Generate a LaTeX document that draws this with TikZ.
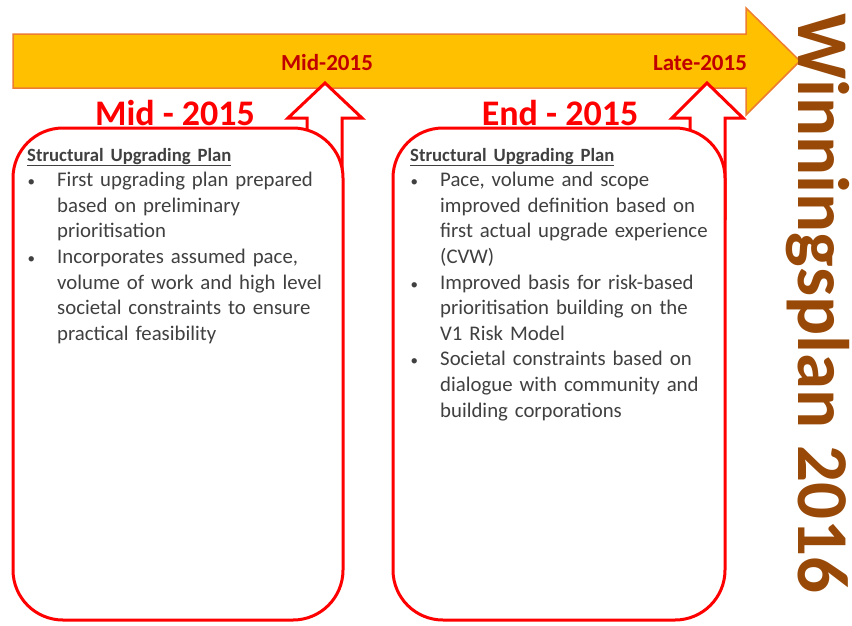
\documentclass[tikz,border=0pt]{standalone}
\usepackage{fontspec}
\setmainfont{Carlito}
\definecolor{arrowfill}{HTML}{FFC000}
\definecolor{arrowline}{HTML}{ED7D31}
\definecolor{datered}{HTML}{C00000}
\definecolor{boxred}{HTML}{FF0000}
\definecolor{bodygray}{HTML}{404040}
\definecolor{brownt}{HTML}{984807}
\newcommand\bitem{\par\hangindent=30pt\hangafter=1\noindent\makebox[30pt][l]{\hspace{0.5pt}{\fontsize{15}{15}\selectfont\textbullet}}}
\begin{document}
\begin{tikzpicture}[x=1pt,y=-1pt,
  planbox/.style={draw=boxred, line width=3pt, fill=white, rounded corners=50pt},
  uparrow/.style={draw=boxred, line width=3pt, fill=white, line join=miter},
  datelabel/.style={text=datered, font=\fontsize{23}{27}\selectfont\bfseries, inner sep=0, anchor=base},
  periodtitle/.style={text=boxred, font=\fontsize{36}{42}\selectfont\bfseries, inner sep=0, anchor=base},
  bodytext/.style={text=bodygray, inner sep=0, anchor=base west, text width=320pt, align=left,
    font=\fontsize{20.8}{25.6}\selectfont}]
\useasboundingbox (0,0) rectangle (852,625);
% timeline arrow
\draw[fill=arrowfill, draw=arrowline, line width=1.5pt, line join=miter]
  (13,34) -- (746,34) -- (746,8) -- (800,61) -- (746,115) -- (746,88) -- (13,88) -- cycle;
\node[datelabel] (lmid) at (327,70) {Mid-2015};
\node[datelabel] (llate) at (700,70) {Late-2015};
% up arrows
\draw[uparrow] (307,220) -- (307,118) -- (288,118) -- (325,83) -- (362,118) -- (342,118) -- (342,220);
\draw[uparrow] (690,220) -- (690,118) -- (672,118) -- (707,83) -- (743,118) -- (725,118) -- (725,220);
% boxes
\draw[planbox] (13,128) rectangle (343,620);
\draw[planbox] (393,128) rectangle (725,620);
% titles
\node[periodtitle] (tmid) at (175,125) {Mid - 2015};
\node[periodtitle] (tend) at (560,125) {End - 2015};
% box texts
\node[bodytext] (txtA) at (27,161) {%
  {\fontsize{18.7}{25.6}\selectfont\bfseries\underline{Structural Upgrading Plan}\par}%
  \bitem First upgrading plan prepared\newline based on preliminary\newline prioritisation
  \bitem Incorporates assumed pace,\newline volume of work and high level\newline societal constraints to ensure\newline practical feasibility\par};
\node[bodytext] (txtB) at (410,161) {%
  {\fontsize{18.7}{25.6}\selectfont\bfseries\underline{Structural Upgrading Plan}\par}%
  \bitem Pace, volume and scope\newline improved definition based on\newline first actual upgrade experience\newline (CVW)
  \bitem Improved basis for risk-based\newline prioritisation building on the\newline V1 Risk Model
  \bitem Societal constraints based on\newline dialogue with community and\newline building corporations\par};
% vertical title
\node[rotate=-90, anchor=base west, inner sep=0, text=brownt,
  font=\fontsize{73}{80}\selectfont\bfseries] (wp) at (798,13) {Winningsplan 2016};
\end{tikzpicture}
\end{document}
